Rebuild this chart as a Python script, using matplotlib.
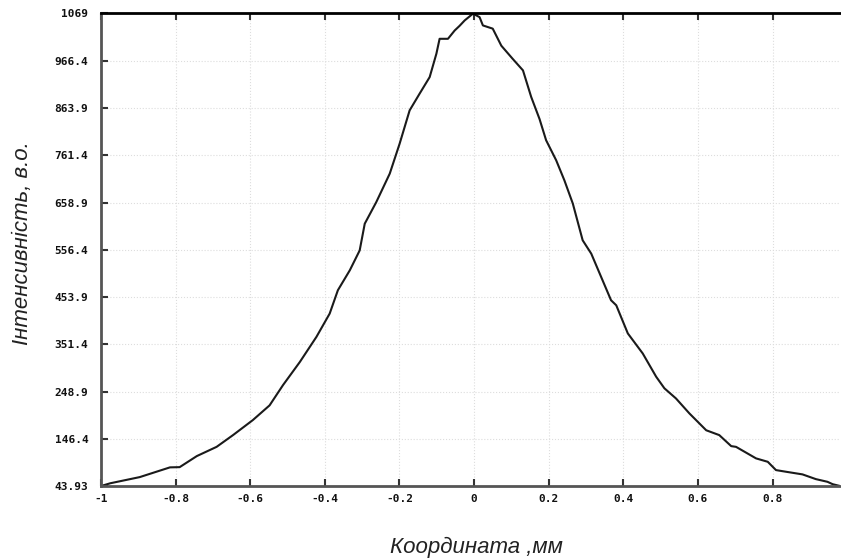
import matplotlib.pyplot as plt

# profile
coord = [-1.0, -0.975, -0.896, -0.815, -0.789, -0.743, -0.69, -0.646, -0.593, -0.548,
         -0.512, -0.467, -0.4225, -0.387, -0.365, -0.333, -0.3066, -0.293, -0.262, -0.226,
         -0.1995, -0.1727, -0.146, -0.119, -0.101, -0.0924, -0.070, -0.052, -0.039, -0.025,
         -0.003, 0.0147, 0.0236, 0.050, 0.073, 0.104, 0.131, 0.153, 0.1754, 0.193,
         0.220, 0.242, 0.2646, 0.291, 0.314, 0.3405, 0.367, 0.381, 0.412, 0.452,
         0.488, 0.510, 0.541, 0.577, 0.622, 0.657, 0.689, 0.702, 0.7556, 0.787,
         0.809, 0.836, 0.880, 0.916, 0.947, 0.961, 0.981]
intens = [44, 50, 63.4, 84.5, 85, 109, 129, 154.5, 187, 219,
          263, 313, 367.5, 418, 468.7, 512, 555, 613, 660, 721.6,
          786.6, 858.8, 895, 931, 981.7, 1014, 1014, 1032, 1042, 1054,
          1068.5, 1061, 1043, 1036, 999, 970, 945.5, 888, 840, 794,
          750.5, 707, 656.6, 577, 548, 497.5, 447, 436, 375, 331.5,
          281, 256, 234, 201.5, 165, 154.5, 130.6, 129, 104, 96.6,
          78.6, 75, 69.3, 59, 53.2, 48, 44]

xticks = [-1, -0.8, -0.6, -0.4, -0.2, 0, 0.2, 0.4, 0.6, 0.8]
xlabels = ['-1', '-0.8', '-0.6', '-0.4', '-0.2', '0', '0.2', '0.4', '0.6', '0.8']
yticks = [43.93, 146.4, 248.9, 351.4, 453.9, 556.4, 658.9, 761.4, 863.9, 966.4, 1069]
ylabels = ['43.93', '146.4', '248.9', '351.4', '453.9', '556.4', '658.9', '761.4',
           '863.9', '966.4', '1069']

fig = plt.figure(figsize=(8.41, 5.6), dpi=100)
ax = fig.add_axes([0.120, 0.132, 0.879, 0.844])

ax.plot(coord, intens, color='#1a1a1a', lw=1.5)

ax.set_xlim(-1, 0.981)
ax.set_ylim(43.93, 1069)
ax.set_xticks(xticks)
ax.set_xticklabels(xlabels)
ax.set_yticks(yticks)
ax.set_yticklabels(ylabels)

ax.grid(True, color='#dddddd', ls=':', lw=0.8)
ax.tick_params(direction='in', length=5, width=1.5, color='#333333', top=True,
               labelsize=8, labelcolor='#111111')
ax.tick_params(axis='y', pad=9)
ax.tick_params(axis='x', pad=6)
for lab in ax.get_xticklabels() + ax.get_yticklabels():
    lab.set_family('DejaVu Sans Mono')
    lab.set_weight('bold')

ax.spines['right'].set_visible(False)
ax.spines['top'].set_linewidth(2)
ax.spines['top'].set_color('black')
ax.spines['left'].set_linewidth(2)
ax.spines['left'].set_color('#555555')
ax.spines['bottom'].set_linewidth(2)
ax.spines['bottom'].set_color('#555555')

fig.text(0.027, 0.566, 'Інтенсивність, в.о.', rotation=90, ha='center', va='center',
         family='Liberation Sans', style='italic', fontsize=16, color='#222222')
fig.text(0.567, 0.022, 'Координата ,мм', ha='center', va='center',
         family='Liberation Sans', style='italic', fontsize=16, color='#222222')

fig.savefig('out.png', dpi=100)
